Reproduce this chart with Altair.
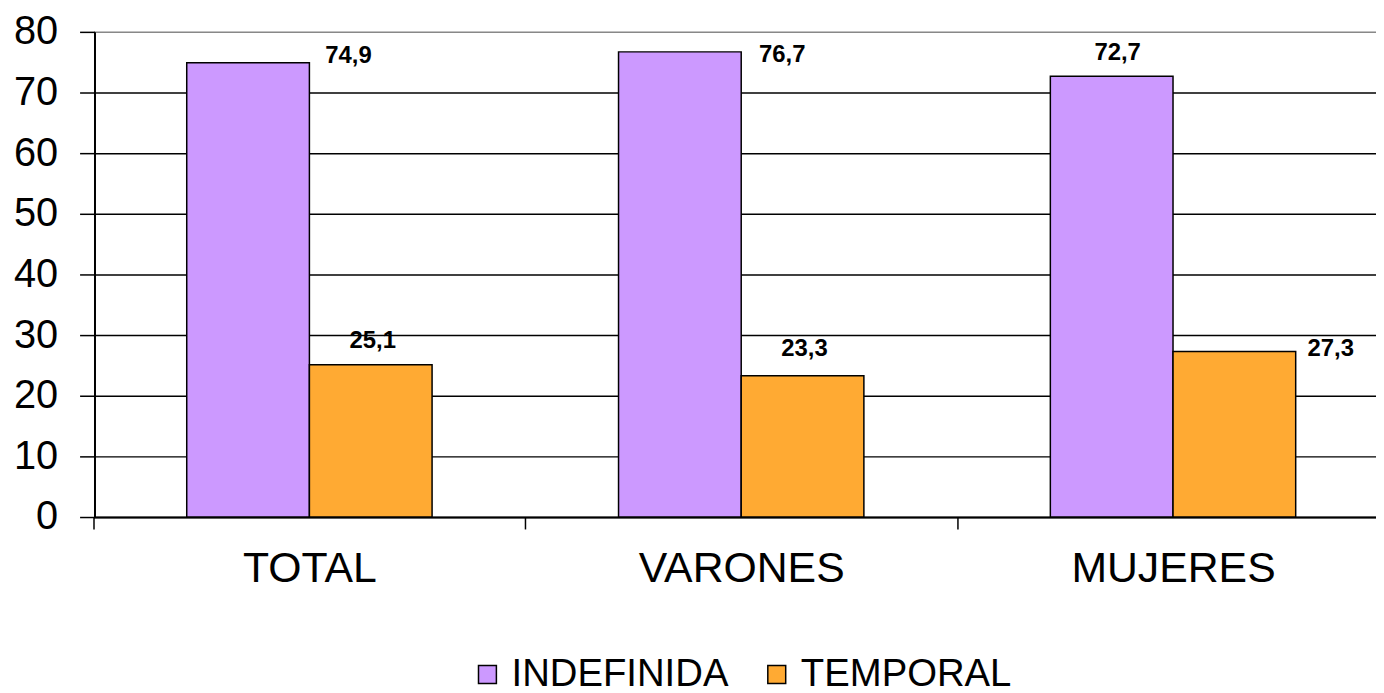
import altair as alt
import pandas as pd

categories = ["TOTAL", "VARONES", "MUJERES"]
series = ["INDEFINIDA", "TEMPORAL"]
indefinida = [74.9, 76.7, 72.7]
temporal = [25.1, 23.3, 27.3]

rows = []
for c, a, b in zip(categories, indefinida, temporal):
    rows.append({"cat": c, "ser": series[0], "val": a})
    rows.append({"cat": c, "ser": series[1], "val": b})
df = pd.DataFrame(rows)
df["lbl"] = df["val"].map(lambda v: f"{v:.1f}".replace(".", ","))

FONT = "Liberation Sans"

xenc = alt.X(
    "cat:N", sort=categories, title=None,
    scale=alt.Scale(paddingInner=0, paddingOuter=0, range=[-1, 1302]),
    axis=alt.Axis(labelAngle=0, labelFontSize=43, labelFont=FONT, labelColor="black",
                  labelPadding=19, labelLimit=800, tickBand="extent", tickSize=12,
                  tickColor="black", tickWidth=1.5, domainColor="black", domainWidth=2,
                  grid=False),
)
xoff = alt.XOffset("ser:N", sort=series,
                   scale=alt.Scale(paddingOuter=0.76, paddingInner=0))
yenc = alt.Y(
    "val:Q", title=None,
    scale=alt.Scale(domain=[0, 80], nice=False),
    axis=alt.Axis(values=[0, 10, 20, 30, 40, 50, 60, 70, 80], labelFontSize=40,
                  labelFont=FONT, labelColor="black", labelPadding=22, tickSize=15,
                  tickColor="black", tickWidth=1.5, domainColor="black", domainWidth=2,
                  grid=True,
                  gridColor={"condition": {"test": "datum.value == 80", "value": "#888888"},
                             "value": "black"},
                  gridWidth=1.5),
)

bars = alt.Chart(df).mark_bar(stroke="black", strokeWidth=1.5).encode(
    x=xenc, xOffset=xoff, y=yenc,
    color=alt.Color("ser:N", sort=series,
                    scale=alt.Scale(domain=series, range=["#CC99FF", "#FFAA33"]),
                    legend=alt.Legend(title=None, orient="none", legendX=376, legendY=627,
                                      direction="horizontal",
                                      symbolType="square", symbolSize=324,
                                      symbolStrokeColor="black", symbolStrokeWidth=1.5,
                                      labelFontSize=38.5, labelFont=FONT, labelColor="black",
                                      labelLimit=800, labelOffset=5, columnPadding=29)),
)

offsets = {
    ("TOTAL", "INDEFINIDA"): (101, -7),
    ("TOTAL", "TEMPORAL"): (2, -24),
    ("VARONES", "INDEFINIDA"): (103, 3),
    ("VARONES", "TEMPORAL"): (2, -27),
    ("MUJERES", "INDEFINIDA"): (6, -23),
    ("MUJERES", "TEMPORAL"): (97, -2),
}

layers = [bars]
for (c, s), (dx, dy) in offsets.items():
    t = alt.Chart(df).transform_filter(
        (alt.datum.cat == c) & (alt.datum.ser == s)
    ).mark_text(font=FONT, fontSize=24, fontWeight="bold", color="black",
                baseline="middle", align="center", dx=dx, dy=dy).encode(
        x=alt.X("cat:N", sort=categories), xOffset=alt.XOffset("ser:N", sort=series),
        y=alt.Y("val:Q"), text="lbl:N")
    layers.append(t)

chart = alt.layer(*layers).properties(
    width=1289, height=488,
    autosize=alt.AutoSizeParams(type="none"),
    padding={"left": 87, "top": 22, "right": 0, "bottom": 175},
).configure_view(fill="#CCCCFF", strokeWidth=0
).configure(background="white")

chart.save("out.html", embed_options={"renderer": "svg", "actions": False})
